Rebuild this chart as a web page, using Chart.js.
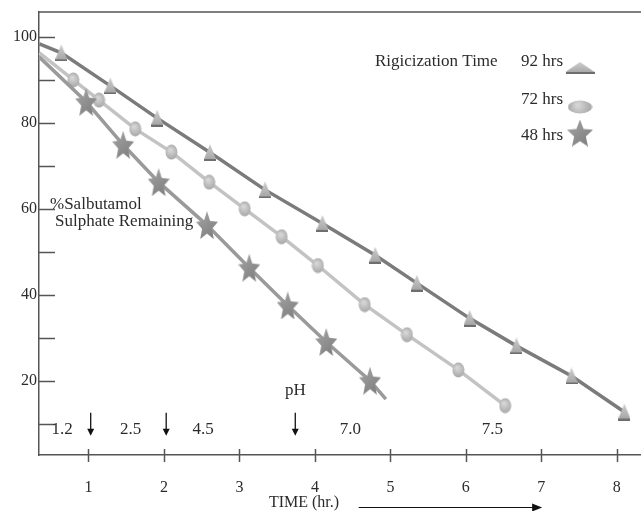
<!DOCTYPE html>
<html>
<head>
<meta charset="utf-8">
<script src="https://cdn.jsdelivr.net/npm/chart.js@4.4.0/dist/chart.umd.min.js"></script>
<style>
  html, body { margin: 0; padding: 0; background: #fff; overflow: hidden; }
  #wrap { position: relative; width: 641px; height: 511px; }
  #chart { display: block; }
</style>
</head>
<body>
<div id="wrap"><canvas id="chart"></canvas></div>
<script>
const timeTicks = [1, 2, 3, 4, 5, 6, 7, 8];
const percentTicks = [10, 20, 30, 40, 50, 60, 70, 80, 90, 100];

// 92 hrs (triangles)
const hrs92Time = [0.64, 1.29, 1.91, 2.61, 3.34, 4.10, 4.80, 5.35, 6.05, 6.67, 7.40, 8.10];
const hrs92Pct = [96.3, 88.6, 81.1, 73.1, 64.4, 56.6, 49.2, 42.7, 34.5, 28.1, 21.1, 12.7];
// 72 hrs (circles)
const hrs72Time = [0.80, 1.14, 1.62, 2.10, 2.60, 3.07, 3.56, 4.04, 4.66, 5.22, 5.90, 6.52];
const hrs72Pct = [90.0, 85.3, 78.6, 73.2, 66.2, 60.0, 53.5, 46.8, 37.7, 30.7, 22.5, 14.2];
// 48 hrs (stars)
const hrs48Time = [0.97, 1.46, 1.93, 2.57, 3.13, 3.64, 4.15, 4.73];
const hrs48Pct = [84.9, 74.9, 66.2, 56.2, 46.3, 37.5, 29.0, 20.0];

// where each fitted line leaves the y axis, and where the 48 hrs line stops
const lineStartTime = 0.35;
const lineStartPct = [98.4, 96.3, 95.3];
const hrs48EndTime = 4.94;
const hrs48EndPct = 15.7;

const seriesLabels = ['92 hrs', '72 hrs', '48 hrs'];

// pH regions along the time axis
const phValues = ['1.2', '2.5', '4.5', '7.0', '7.5'];
const phLabelTime = [0.65, 1.56, 2.52, 4.47, 6.35];
const phChangeTime = [1.03, 2.03, 3.74];

const FONT = '"Liberation Serif", "Times New Roman", serif';
const INK = '#2b2b2b';
const AXIS = '#555';

function makeTriangle(w, h) {
  const c = document.createElement('canvas');
  c.width = w; c.height = h;
  const g = c.getContext('2d');
  const grad = g.createLinearGradient(0, 0, 0, h);
  grad.addColorStop(0, '#cfcfcf');
  grad.addColorStop(1, '#a2a2a2');
  g.fillStyle = grad;
  g.beginPath();
  g.moveTo(w / 2, 0);
  g.lineTo(w, h - 2);
  g.lineTo(0, h - 2);
  g.closePath();
  g.fill();
  g.fillStyle = '#6e6e6e';
  g.fillRect(0, h - 2, w, 2);
  return c;
}

function makeEllipse(w, h) {
  const c = document.createElement('canvas');
  c.width = w; c.height = h;
  const g = c.getContext('2d');
  const grad = g.createRadialGradient(w * 0.4, h * 0.35, 1, w / 2, h / 2, Math.max(w, h) / 2);
  grad.addColorStop(0, '#d6d6d6');
  grad.addColorStop(1, '#a4a4a4');
  g.fillStyle = grad;
  g.beginPath();
  g.ellipse(w / 2, h / 2, w / 2 - 0.5, h / 2 - 0.5, 0, 0, Math.PI * 2);
  g.fill();
  return c;
}

function makeStar(w, h) {
  const c = document.createElement('canvas');
  c.width = w; c.height = h;
  const g = c.getContext('2d');
  const rx = w / 1.902, ry = h / 1.809;
  const cx = w / 2, cy = ry;
  const grad = g.createLinearGradient(0, 0, w, h);
  grad.addColorStop(0, '#a6a6a6');
  grad.addColorStop(1, '#7a7a7a');
  g.fillStyle = grad;
  g.beginPath();
  for (let i = 0; i < 10; i++) {
    const a = -Math.PI / 2 + i * Math.PI / 5;
    const r = i % 2 === 0 ? 1 : 0.45;
    const x = cx + Math.cos(a) * rx * r;
    const y = cy + Math.sin(a) * ry * r;
    if (i === 0) g.moveTo(x, y); else g.lineTo(x, y);
  }
  g.closePath();
  g.fill();
  return c;
}

const markers = [makeTriangle(12, 17), makeEllipse(13, 16), makeStar(22, 28)];
const legendMarkers = [makeTriangle(29, 12), makeEllipse(25, 14), makeStar(26, 27)];

function toPoints(times, pcts) {
  return times.map((t, i) => ({ x: t, y: pcts[i] }));
}

const lineData = [
  [{ x: lineStartTime, y: lineStartPct[0] }, ...toPoints(hrs92Time, hrs92Pct)],
  [{ x: lineStartTime, y: lineStartPct[1] }, ...toPoints(hrs72Time, hrs72Pct)],
  [{ x: lineStartTime, y: lineStartPct[2] }, ...toPoints(hrs48Time, hrs48Pct), { x: hrs48EndTime, y: hrs48EndPct }],
];
const lineColors = ['#7b7b7b', '#c3c3c3', '#9a9a9a'];
const markerCounts = [hrs92Time.length, hrs72Time.length, hrs48Time.length];

const datasets = lineData.map((data, s) => ({
  label: seriesLabels[s],
  data,
  borderColor: lineColors[s],
  borderWidth: 3.5,
  tension: 0,
  clip: false,
  pointStyle: markers[s],
  // the first point (and the 48 hrs tail) only carry the line
  pointRadius: (ctx) => (ctx.dataIndex === 0 || ctx.dataIndex > markerCounts[s]) ? 0 : 6,
  pointHoverRadius: 0,
}));
// draw circles first so stars and triangles sit on top
datasets.reverse();

const decorations = {
  id: 'decorations',
  afterDraw(chart) {
    const { ctx, chartArea: area, scales: { x, y } } = chart;
    ctx.save();
    ctx.strokeStyle = AXIS;
    ctx.lineWidth = 1.5;

    // frame top
    ctx.beginPath();
    ctx.moveTo(area.left, area.top);
    ctx.lineTo(area.right, area.top);
    ctx.stroke();

    // x ticks crossing the axis
    timeTicks.forEach((t) => {
      const px = Math.round(x.getPixelForValue(t)) + 0.5;
      ctx.beginPath();
      ctx.moveTo(px, area.bottom - 6);
      ctx.lineTo(px, area.bottom + 7);
      ctx.stroke();
    });
    // y ticks pointing inward
    percentTicks.forEach((v) => {
      const py = Math.round(y.getPixelForValue(v)) + 0.5;
      ctx.beginPath();
      ctx.moveTo(area.left, py);
      ctx.lineTo(area.left + 16, py);
      ctx.stroke();
    });

    ctx.fillStyle = INK;
    ctx.font = '17px ' + FONT;
    ctx.textBaseline = 'middle';
    ctx.textAlign = 'left';

    // y axis caption inside the plot
    ctx.fillText('%Salbutamol', area.left + 11, y.getPixelForValue(60) - 4);
    ctx.fillText('Sulphate Remaining', area.left + 16, y.getPixelForValue(60) + 13);

    // legend
    ctx.fillText('Rigicization Time', 375, 62);
    const legendRows = [62, 100, 136];
    const legendMarkerY = [68, 107, 133];
    seriesLabels.forEach((lab, i) => {
      ctx.fillText(lab, 521, legendRows[i]);
      const m = legendMarkers[i];
      ctx.drawImage(m, 580 - m.width / 2, legendMarkerY[i] - m.height / 2);
    });

    // pH annotations
    ctx.textAlign = 'center';
    const phY = y.getPixelForValue(8.6);
    phValues.forEach((v, i) => ctx.fillText(v, x.getPixelForValue(phLabelTime[i]), phY));
    ctx.fillText('pH', x.getPixelForValue(phChangeTime[2]), y.getPixelForValue(17.8));
    ctx.strokeStyle = '#111';
    ctx.fillStyle = '#111';
    ctx.lineWidth = 1.3;
    phChangeTime.forEach((t) => {
      const px = x.getPixelForValue(t);
      const top = phY - 17;
      const bot = phY + 6;
      ctx.beginPath();
      ctx.moveTo(px, top);
      ctx.lineTo(px, bot - 5);
      ctx.stroke();
      ctx.beginPath();
      ctx.moveTo(px - 3.5, bot - 7);
      ctx.lineTo(px + 3.5, bot - 7);
      ctx.lineTo(px, bot);
      ctx.closePath();
      ctx.fill();
    });

    // x axis title with arrow
    ctx.fillStyle = INK;
    ctx.font = '16px ' + FONT;
    ctx.textAlign = 'center';
    ctx.fillText('TIME (hr.)', 304, 503);
    const ax0 = x.getPixelForValue(4.58);
    const ax1 = x.getPixelForValue(7.01);
    ctx.strokeStyle = '#111';
    ctx.fillStyle = '#111';
    ctx.lineWidth = 1.2;
    ctx.beginPath();
    ctx.moveTo(ax0, 507.5);
    ctx.lineTo(ax1 - 8, 507.5);
    ctx.stroke();
    ctx.beginPath();
    ctx.moveTo(ax1 - 10, 503.5);
    ctx.lineTo(ax1, 507.5);
    ctx.lineTo(ax1 - 10, 511.5);
    ctx.closePath();
    ctx.fill();
    ctx.restore();
  },
};

new Chart(document.getElementById('chart'), {
  type: 'line',
  data: { datasets },
  options: {
    responsive: true,
    maintainAspectRatio: false,
    animation: false,
    layout: { autoPadding: false, padding: { top: 12, right: 0, left: 0, bottom: 0 } },
    plugins: {
      legend: { display: false },
      tooltip: { enabled: false },
    },
    scales: {
      x: {
        type: 'linear',
        min: 0.345,
        max: 8.32,
        afterBuildTicks: (scale) => { scale.ticks = timeTicks.map((v) => ({ value: v })); },
        afterFit: (scale) => {
          scale.height = 56;
          scale.paddingLeft = 0;
          scale.paddingRight = 0;
        },
        grid: { display: false, drawTicks: false },
        border: { display: true, color: AXIS, width: 1.5 },
        ticks: { color: INK, font: { family: FONT, size: 16 }, padding: 23, maxRotation: 0 },
      },
      y: {
        type: 'linear',
        min: 2.7,
        max: 105.8,
        afterBuildTicks: (scale) => { scale.ticks = percentTicks.map((v) => ({ value: v })); },
        afterFit: (scale) => {
          scale.width = 39;
          scale.paddingTop = 0;
          scale.paddingBottom = 0;
        },
        grid: { display: false, drawTicks: false },
        border: { display: true, color: AXIS, width: 1.5 },
        ticks: {
          color: INK,
          font: { family: FONT, size: 16 },
          padding: 2,
          callback: (v) => (v % 20 === 0 ? v : ''),
        },
      },
    },
  },
  plugins: [decorations],
});
</script>
</body>
</html>
